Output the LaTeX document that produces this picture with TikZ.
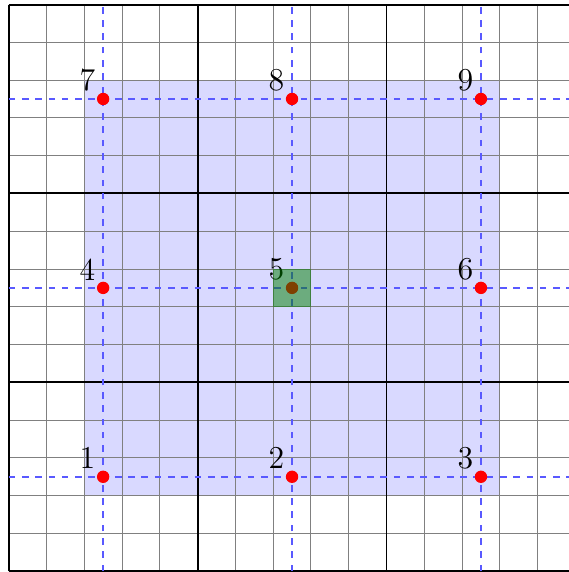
\documentclass[tikz,border=0pt]{standalone}
\begin{document}
\begin{tikzpicture}[x=3cm,y=3cm,
  finegrid/.style={gray, line width=0.4pt},
  coarsegrid/.style={black, line width=0.9pt},
  guide/.style={blue!65, dashed, line width=0.7pt},
  dot/.style={circle, fill=red, inner sep=0pt, minimum size=5.6pt},
  lab/.style={above left, font=\Large, inner sep=0.333em},
  region/.style={fill=blue, fill opacity=0.15},
  cell/.style={fill=green!50!black, fill opacity=0.5}]
\useasboundingbox (-0.046,-0.004) rectangle (2.963,3.024);
\fill[region] (0.4,0.4) rectangle (2.6,2.6);
\draw[finegrid, step=0.2] (0,0) grid (3,3);
\draw[coarsegrid, step=1] (0,0) grid (3,3);
\foreach \v [count=\i] in {0.5,1.5,2.5} {
  \coordinate (hl\i) at (0,\v);
  \coordinate (hr\i) at (3,\v);
  \coordinate (vb\i) at (\v,0);
  \coordinate (vt\i) at (\v,3);
  \draw[guide] (hl\i) -- (hr\i);
  \draw[guide] (vb\i) -- (vt\i);
}
\foreach \y [count=\r from 0] in {0.5,1.5,2.5} {
  \foreach \x [count=\c] in {0.5,1.5,2.5} {
    \pgfmathtruncatemacro{\n}{3*\r+\c}
    \node[dot] (p\n) at (\x,\y) {};
    \node[lab] (l\n) at (p\n.center) {\n};
  }
}
\fill[cell] (1.4,1.4) rectangle (1.6,1.6);
\end{tikzpicture}
\end{document}
